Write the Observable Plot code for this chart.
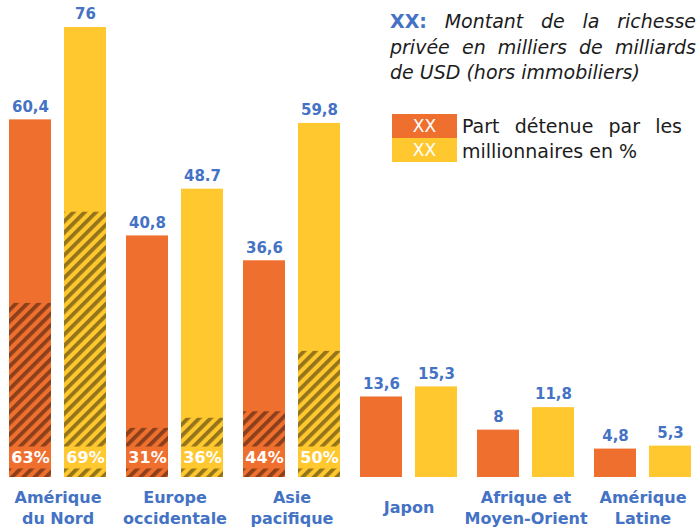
<!DOCTYPE html>
<html>
<head>
<meta charset="utf-8">
<script src="https://cdn.jsdelivr.net/npm/d3@7"></script>
<script src="https://cdn.jsdelivr.net/npm/@observablehq/plot@0.6"></script>
<style>
  html, body { margin: 0; padding: 0; background: #fff; overflow: hidden; }
  #wrap { position: relative; width: 696px; height: 527px; font-family: "DejaVu Sans", sans-serif; }
  #chart svg { display: block; max-width: none; }
  .note { position: absolute; left: 390px; top: 9px; width: 306px; font-size: 19px; line-height: 25.5px; color: #1c1c1c; font-style: italic; }
  .note div { white-space: nowrap; }
  .note .j { text-align: justify; text-align-last: justify; white-space: normal; }
  .note b { color: #4472C4; font-style: normal; }
  .legend { position: absolute; left: 392px; top: 114px; }
  .legend .box { position: absolute; left: 0; width: 65px; height: 24px; color: #fff; font-size: 17px; line-height: 24px; text-align: center; }
  .legend .txt { position: absolute; left: 70px; font-size: 19px; color: #1c1c1c; white-space: nowrap; line-height: 25px; }
</style>
</head>
<body>
<div id="wrap">
  <div id="chart"></div>
  <div class="note">
    <div class="j"><b>XX:</b> Montant de la richesse</div>
    <div class="j">privée en milliers de milliards</div>
    <div>de USD (hors immobiliers)</div>
  </div>
  <div class="legend">
    <div class="box" style="top:0;background:#EF6F2E">XX</div>
    <div class="box" style="top:24px;background:#FFC82E">XX</div>
    <div class="txt" style="top:0;width:220px;text-align:justify;text-align-last:justify;white-space:normal">Part détenue par les</div>
    <div class="txt" style="top:25px">millionnaires en %</div>
  </div>
</div>
<script>
// ---- data ----
const categories = ["Amérique du Nord", "Europe occidentale", "Asie pacifique", "Japon", "Afrique et Moyen-Orient", "Amérique Latine"];
const categoryLabels = ["Amérique\ndu Nord", "Europe\noccidentale", "Asie\npacifique", "Japon", "Afrique et\nMoyen-Orient", "Amérique\nLatine"];
const seriesNames = ["Série orange", "Série jaune"];
const seriesColors = ["#EF6F2E", "#FFC82E"];
const wealthOrange = [60.4, 40.8, 36.6, 13.6, 8, 4.8];
const wealthYellow = [76, 48.7, 59.8, 15.3, 11.8, 5.3];
const labelsOrange = ["60,4", "40,8", "36,6", "13,6", "8", "4,8"];
const labelsYellow = ["76", "48.7", "59,8", "15,3", "11,8", "5,3"];
const shareOrange = [63, 31, 44, null, null, null];
const shareYellow = [69, 36, 50, null, null, null];
// height of the hatched part of each bar (same units as wealth)
const hatchOrange = [29.4, 8.3, 11.1, null, null, null];
const hatchYellow = [44.8, 10.0, 21.3, null, null, null];

const rows = [];
categories.forEach((c, i) => {
  rows.push({cat: c, series: seriesNames[0], value: wealthOrange[i], label: labelsOrange[i], share: shareOrange[i], hatch: hatchOrange[i]});
  rows.push({cat: c, series: seriesNames[1], value: wealthYellow[i], label: labelsYellow[i], share: shareYellow[i], hatch: hatchYellow[i]});
});
const catRows = categories.map((c, i) => ({cat: c, text: categoryLabels[i]}));
const withShare = rows.filter(d => d.share != null);

const blue = "#4472C4";

const svg = Plot.plot({
  width: 696,
  height: 527,
  marginTop: 27,
  marginBottom: 50,
  marginLeft: 9,
  marginRight: 4,
  style: {background: "#fff", fontFamily: "DejaVu Sans, sans-serif"},
  fx: {domain: categories, paddingInner: 0.167, paddingOuter: 0, axis: null, label: null},
  x: {domain: seriesNames, paddingInner: 0.24, paddingOuter: 0, axis: null},
  y: {domain: [0, 76], axis: null},
  color: {domain: seriesNames, range: seriesColors},
  marks: [
    Plot.barY(rows, {fx: "cat", x: "series", y: "value", fill: "series"}),
    Plot.barY(rows.filter(d => d.hatch != null), {fx: "cat", x: "series", y: "hatch", fill: "url(#hatch)"}),
    Plot.tickY(withShare, {fx: "cat", x: "series", y: () => 0, stroke: "series", strokeWidth: 22, dy: -20}),
    Plot.text(withShare, {fx: "cat", x: "series", y: () => 0, text: d => d.share + "%", dy: -20, fill: "white", fontWeight: "bold", fontSize: 16}),
    Plot.text(rows, {fx: "cat", x: "series", y: "value", text: "label", dy: -13, fill: blue, fontWeight: "bold", fontSize: 15}),
    Plot.text(catRows, {fx: "cat", text: "text", frameAnchor: "bottom", dy: 29, lineAnchor: "middle", lineHeight: 1.3, fill: blue, fontWeight: "bold", fontSize: 16})
  ]
});

const defs = d3.select(svg).insert("defs", ":first-child");
const pat = defs.append("pattern")
  .attr("id", "hatch")
  .attr("patternUnits", "userSpaceOnUse")
  .attr("width", 8)
  .attr("height", 8)
  .attr("patternTransform", "rotate(45)");
pat.append("rect").attr("width", 3.8).attr("height", 8).attr("fill", "#000").attr("fill-opacity", 0.42);

document.getElementById("chart").appendChild(svg);
</script>
</body>
</html>
